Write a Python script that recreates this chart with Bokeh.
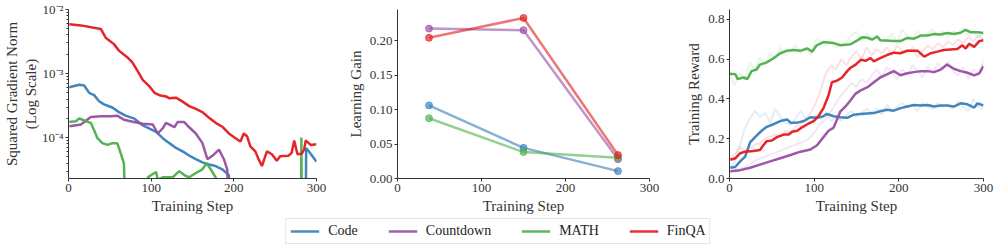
import math
from bokeh.plotting import figure
from bokeh.models import (Range1d, FixedTicker, CustomJSTickFormatter, Legend, LegendItem,
                          NumeralTickFormatter)
from bokeh.layouts import row, column
from bokeh.embed import file_html
from bokeh.resources import INLINE

NaN = float("nan")
FONT = "Liberation Serif"
TXT = "#333333"

series = ["Code", "Countdown", "MATH", "FinQA"]
colors = ["#377eb8", "#984ea3", "#4daf4a", "#e41a1c"]

# ---------------- Panel 1: squared gradient norm (log) ----------------
grad_code_x = [1, 13, 19, 25, 31, 37, 43, 53, 61, 69, 79, 90, 98, 106, 114, 122, 130, 138, 146, 154,
               162, 170, 178, 186, 194, 199, 200, 286.5, 287.5, 292, 300]
grad_code_y = [6.1e-4, 6.7e-4, 6.5e-4, 5.0e-4, 4.6e-4, 3.7e-4, 3.3e-4, 2.95e-4, 2.5e-4, 2.2e-4, 2.0e-4,
               1.55e-4, 1.38e-4, 1.23e-4, 9.8e-5, 8.2e-5, 6.9e-5, 6.1e-5, 5.25e-5, 4.6e-5, 4.1e-5, 3.8e-5,
               3.6e-5, 3.2e-5, 2.6e-5, 1e-6, NaN, 1e-6, 6.9e-5, 5.8e-5, 4.2e-5]

grad_countdown_x = [1, 15, 27, 39, 51, 59, 67, 79, 90, 102, 108, 114, 118, 124, 128, 132, 140, 146, 154,
                    162, 168, 174, 182, 188, 192, 197]
grad_countdown_y = [1.5e-4, 1.6e-4, 2.1e-4, 2.15e-4, 2.15e-4, 2.2e-4, 1.9e-4, 1.75e-4, 1.65e-4, 1.6e-4,
                    1.16e-4, 1.4e-4, 1.7e-4, 1.55e-4, 1.45e-4, 1.75e-4, 1.75e-4, 1.45e-4, 1.16e-4, 8.2e-5,
                    4.6e-5, 5.2e-5, 6.5e-5, 4.6e-5, 3.2e-5, 1e-6]

grad_math_x = [1, 9, 13, 21, 27, 31, 35, 41, 47, 53, 59, 63, 67, 71, 72, 95, 96, 102, 106, 108, 114,
               126, 134, 140, 146, 154, 162, 167, 172, 178, 180, 181, 281, 281.7, 282.4, 283]
grad_math_y = [1.75e-4, 1.8e-4, 2.0e-4, 1.8e-4, 1.7e-4, 1.3e-4, 9.8e-5, 8.2e-5, 7.7e-5, 8.2e-5, 8.2e-5,
               5.8e-5, 4.0e-5, 1e-6, NaN, 1e-6, 2.4e-5, 2.7e-5, 2.9e-5, 2.2e-5, 2.4e-5, 2.4e-5, 3.0e-5,
               2.6e-5, 2.4e-5, 2.8e-5, 3.2e-5, 4.0e-5, 3.2e-5, 2.4e-5, 1e-6, NaN, 1e-6, 1.0e-4, 1e-6, NaN]

grad_finqa_x = [1, 15, 39, 45, 55, 61, 71, 77, 83, 90, 98, 104, 110, 118, 122, 130, 138, 146, 154, 162,
                170, 178, 186, 194, 202, 208, 212, 216, 220, 226, 230, 234, 240, 246, 252, 256, 266,
                270, 273, 277, 282, 285, 287, 293, 300]
grad_finqa_y = [5.9e-3, 5.65e-3, 4.97e-3, 3.63e-3, 2.88e-3, 2.28e-3, 1.80e-3, 1.51e-3, 1.13e-3, 7.9e-4,
                6.3e-4, 5.0e-4, 4.6e-4, 4.4e-4, 4.1e-4, 4.2e-4, 3.65e-4, 3.1e-4, 2.8e-4, 2.5e-4, 2.04e-4,
                1.7e-4, 1.48e-4, 1.16e-4, 9.8e-5, 8.7e-5, 1.16e-4, 1.05e-4, 7.3e-5, 6.1e-5, 4.6e-5,
                3.6e-5, 6.1e-5, 5.5e-5, 4.35e-5, 5.1e-5, 5.2e-5, 5.8e-5, 9.0e-5, 5.5e-5, 5.6e-5, 6.5e-5,
                9.0e-5, 7.7e-5, 7.9e-5]

# ---------------- Panel 2: learning gain ----------------
gain_steps = [37.5, 150, 262.5]
gain_code = [0.106, 0.0444, 0.0107]
gain_countdown = [0.2173, 0.215, 0.028]
gain_math = [0.0874, 0.0383, 0.030]
gain_finqa = [0.204, 0.2327, 0.034]

# ---------------- Panel 3: training reward ----------------
raw_steps = [0, 6, 12, 18, 24, 30, 36, 42, 48, 54, 60, 66, 72, 78, 84, 90, 96, 102, 108, 114, 120,
             126, 132, 138, 144, 150, 156, 162, 168, 174, 180, 186, 192, 198, 204, 210, 216, 222, 228,
             234, 240, 246, 252, 258, 264, 270, 276, 282, 288, 294, 300]
raw_code = [0.05, 0.08, 0.16, 0.25, 0.30, 0.34, 0.31, 0.33, 0.28, 0.35, 0.31, 0.28, 0.27, 0.30, 0.34,
            0.30, 0.28, 0.32, 0.30, 0.33, 0.29, 0.31, 0.29, 0.32, 0.34, 0.31, 0.33, 0.35, 0.33, 0.35,
            0.32, 0.37, 0.34, 0.36, 0.38, 0.36, 0.37, 0.34, 0.38, 0.36, 0.35, 0.38, 0.36, 0.37, 0.35,
            0.39, 0.36, 0.34, 0.40, 0.36, 0.35]
raw_countdown = [0.03, 0.04, 0.05, 0.06, 0.07, 0.09, 0.10, 0.11, 0.12, 0.13, 0.14, 0.15, 0.16, 0.17,
                 0.18, 0.19, 0.21, 0.24, 0.28, 0.30, 0.34, 0.38, 0.42, 0.45, 0.48, 0.46, 0.50, 0.48,
                 0.52, 0.55, 0.51, 0.56, 0.53, 0.50, 0.55, 0.52, 0.57, 0.54, 0.51, 0.56, 0.53, 0.58,
                 0.55, 0.59, 0.54, 0.52, 0.56, 0.50, 0.55, 0.52, 0.60]
raw_math = [0.52, 0.47, 0.53, 0.50, 0.58, 0.55, 0.61, 0.57, 0.63, 0.60, 0.66, 0.62, 0.64, 0.67, 0.63,
            0.66, 0.62, 0.70, 0.69, 0.67, 0.68, 0.66, 0.67, 0.69, 0.72, 0.74, 0.69, 0.73, 0.70, 0.72,
            0.69, 0.70, 0.73, 0.68, 0.75, 0.72, 0.70, 0.74, 0.71, 0.73, 0.75, 0.72, 0.74, 0.71, 0.74,
            0.73, 0.76, 0.72, 0.74, 0.71, 0.73]
raw_finqa = [0.10, 0.12, 0.16, 0.14, 0.15, 0.17, 0.18, 0.20, 0.21, 0.22, 0.21, 0.24, 0.23, 0.26, 0.27,
             0.30, 0.33, 0.38, 0.45, 0.53, 0.57, 0.55, 0.60, 0.57, 0.61, 0.64, 0.60, 0.66, 0.62, 0.65,
             0.63, 0.66, 0.62, 0.67, 0.64, 0.63, 0.66, 0.61, 0.64, 0.67, 0.65, 0.68, 0.66, 0.69, 0.67,
             0.70, 0.68, 0.71, 0.69, 0.72, 0.70]

sm_code_x = [1, 6.7, 12.6, 18.5, 24.5, 32, 38, 44, 52, 60, 68, 72, 80, 88, 95.5, 103.4, 111, 115, 123,
             131, 139, 147, 155, 170.5, 178, 186, 194, 202, 210, 218, 226, 234, 241.6, 249.5, 257, 265,
             273, 281, 289, 293, 300]
sm_code_y = [0.054, 0.058, 0.086, 0.11, 0.183, 0.216, 0.24, 0.26, 0.273, 0.289, 0.297, 0.281, 0.281,
             0.289, 0.308, 0.305, 0.313, 0.325, 0.313, 0.308, 0.305, 0.321, 0.325, 0.329, 0.338, 0.346,
             0.341, 0.354, 0.362, 0.37, 0.367, 0.37, 0.362, 0.367, 0.367, 0.362, 0.378, 0.373, 0.357,
             0.378, 0.367]
sm_countdown_x = [1, 12.6, 24.5, 36, 48, 60, 72, 84, 95.5, 103.4, 111, 117, 123, 127, 131, 137, 143,
                  149, 155, 163, 170.5, 178, 186, 194, 202, 210, 218, 226, 234, 241.6, 249.5, 257, 265,
                  273, 281, 289, 295, 300]
sm_countdown_y = [0.037, 0.042, 0.054, 0.07, 0.086, 0.102, 0.118, 0.135, 0.146, 0.167, 0.208, 0.24,
                  0.256, 0.297, 0.338, 0.362, 0.394, 0.427, 0.443, 0.459, 0.484, 0.508, 0.524, 0.54,
                  0.519, 0.529, 0.535, 0.54, 0.54, 0.535, 0.548, 0.573, 0.552, 0.54, 0.532, 0.519,
                  0.529, 0.565]
sm_math_x = [0, 7, 9.5, 16.6, 21, 26, 32, 36, 44, 52, 60, 68, 76, 84, 92, 97.5, 103, 111, 123, 131, 143,
             151, 157, 163, 168.5, 174.5, 178, 194, 202, 210, 218, 226, 234, 241.6, 249.5, 257, 265,
             273, 279, 285, 293, 300]
sm_math_y = [0.527, 0.524, 0.50, 0.508, 0.50, 0.54, 0.548, 0.573, 0.584, 0.605, 0.63, 0.643, 0.646,
             0.643, 0.654, 0.638, 0.67, 0.686, 0.681, 0.67, 0.675, 0.695, 0.711, 0.708, 0.698, 0.714,
             0.695, 0.691, 0.691, 0.707, 0.703, 0.719, 0.719, 0.727, 0.724, 0.732, 0.727, 0.733,
             0.748, 0.735, 0.735, 0.732]
sm_finqa_x = [1, 7, 12.6, 18.5, 28, 36, 40, 44, 50, 56, 64, 70, 74, 80, 84, 92, 99.5, 105, 111, 117,
              121, 127, 133, 139, 143, 149, 155, 160.6, 166.6, 170.5, 178, 186, 194, 202, 210, 222,
              230, 237.6, 245.5, 253, 261, 269, 275, 279, 283, 289, 295, 300]
sm_finqa_y = [0.094, 0.102, 0.127, 0.135, 0.138, 0.143, 0.167, 0.188, 0.191, 0.208, 0.221, 0.221,
              0.235, 0.24, 0.253, 0.273, 0.289, 0.313, 0.354, 0.419, 0.484, 0.492, 0.508, 0.54, 0.557,
              0.573, 0.597, 0.592, 0.605, 0.589, 0.605, 0.621, 0.633, 0.63, 0.643, 0.643, 0.613,
              0.63, 0.638, 0.646, 0.649, 0.651, 0.67, 0.654, 0.678, 0.662, 0.691, 0.695]

x_ticks = [0, 100, 200, 300]


def style(p):
    p.outline_line_color = None
    p.grid.visible = False
    p.background_fill_color = "white"
    p.border_fill_color = "white"
    for ax in p.axis:
        ax.axis_line_color = TXT
        ax.axis_line_width = 1
        ax.major_tick_line_color = TXT
        ax.major_tick_in = 0
        ax.major_tick_out = 3
        ax.minor_tick_in = 0
        ax.minor_tick_out = 0
        ax.major_label_text_font = FONT
        ax.major_label_text_font_size = "13px"
        ax.major_label_text_color = TXT
        ax.major_label_standoff = 2
        ax.axis_label_text_font = FONT
        ax.axis_label_text_font_size = "15px"
        ax.axis_label_text_font_style = "normal"
        ax.axis_label_text_color = TXT
        ax.axis_label_standoff = 3
    p.xaxis.ticker = FixedTicker(ticks=x_ticks)
    p.xaxis.axis_label = "Training Step"


H = 216
common = dict(height=H, output_backend="svg", toolbar_location=None, min_border_top=9,
              min_border_bottom=33)

# Panel 1
p1 = figure(width=330, y_axis_type="log", x_range=Range1d(0, 300), y_range=Range1d(2.3e-5, 1e-2),
            min_border_left=64, min_border_right=14, **common)
for xs, ys, c in [(grad_code_x, grad_code_y, colors[0]), (grad_countdown_x, grad_countdown_y, colors[1]),
                  (grad_math_x, grad_math_y, colors[2]), (grad_finqa_x, grad_finqa_y, colors[3])]:
    p1.line(xs, ys, color=c, line_width=2.5, line_alpha=0.95)
style(p1)
minor = [m * 10.0 ** e for e in (-5, -4, -3) for m in range(2, 10)]
p1.yaxis.ticker = FixedTicker(ticks=[1e-4, 1e-3, 1e-2], minor_ticks=minor)
p1.yaxis.minor_tick_out = 2
p1.yaxis.minor_tick_line_color = TXT
p1.yaxis.axis_label_standoff = 0
p1.yaxis.formatter = CustomJSTickFormatter(code="""
const e = Math.round(Math.log10(tick));
const sup = {'-':'\u207b','0':'\u2070','1':'\u00b9','2':'\u00b2','3':'\u00b3','4':'\u2074','5':'\u2075','6':'\u2076','7':'\u2077','8':'\u2078','9':'\u2079'};
return '10' + String(e).split('').map(c => sup[c]).join('');
""")
p1.yaxis.axis_label = "Squared Gradient Norm\n(Log Scale)"

# Panel 2
p2 = figure(width=330, x_range=Range1d(0, 300), y_range=Range1d(0, 0.245),
            min_border_left=67, min_border_right=11, **common)
for ys, c in zip([gain_code, gain_countdown, gain_math, gain_finqa], colors):
    p2.line(gain_steps, ys, color=c, line_width=2.5, line_alpha=0.6)
    p2.scatter(gain_steps, ys, size=7, fill_color=c, fill_alpha=0.65, line_color=c, line_alpha=0.65)
style(p2)
p2.yaxis.ticker = FixedTicker(ticks=[0, 0.05, 0.10, 0.15, 0.20])
p2.yaxis.formatter = NumeralTickFormatter(format="0.00")
p2.yaxis.axis_label = "Learning Gain"

# Panel 3
p3 = figure(width=336, x_range=Range1d(0, 300), y_range=Range1d(0, 0.85),
            min_border_left=69, min_border_right=13, **common)
for ys, c in zip([raw_code, raw_countdown, raw_math, raw_finqa], colors):
    p3.line(raw_steps, ys, color=c, line_width=2, line_alpha=0.13)
for xs, ys, c in [(sm_code_x, sm_code_y, colors[0]), (sm_countdown_x, sm_countdown_y, colors[1]),
                  (sm_math_x, sm_math_y, colors[2]), (sm_finqa_x, sm_finqa_y, colors[3])]:
    p3.line(xs, ys, color=c, line_width=2.5, line_alpha=0.95)
style(p3)
p3.yaxis.ticker = FixedTicker(ticks=[0, 0.2, 0.4, 0.6, 0.8])
p3.yaxis.formatter = NumeralTickFormatter(format="0.0")
p3.yaxis.axis_label = "Training Reward"

# Legend strip (glyph data lies outside the strip's ranges, so only the legend shows)
pl = figure(width=996, height=31, output_backend="svg", toolbar_location=None,
            x_range=Range1d(0, 1), y_range=Range1d(0, 1), min_border=0)
pl.axis.visible = False
pl.grid.visible = False
pl.outline_line_color = None
items = []
for name, c in zip(series, colors):
    r = pl.line(x=[5, 6], y=[5, 6], color=c, line_width=2.5, line_alpha=0.9)
    items.append(LegendItem(label=name, renderers=[r]))
leg = Legend(items=items, orientation="horizontal", location="top_center", margin=2, padding=4,
             spacing=30, glyph_width=29, glyph_height=14, label_height=14, label_standoff=9,
             label_text_font=FONT, label_text_font_size="14px", label_text_color="#222222",
             border_line_color="#cccccc", border_line_width=1, background_fill_alpha=1)
pl.add_layout(leg, "center")

layout = column(row(p1, p2, p3, spacing=0), pl, spacing=0)
open("out.html", "w").write(file_html(layout, INLINE))
